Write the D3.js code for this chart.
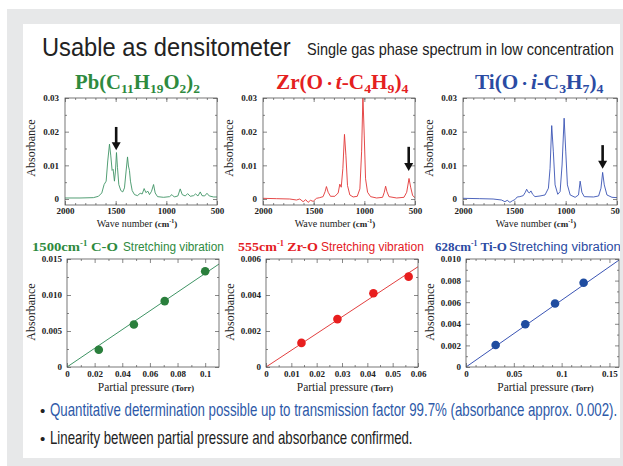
<!DOCTYPE html>
<html>
<head>
<meta charset="utf-8">
<script src="https://cdn.jsdelivr.net/npm/d3@7"></script>
<style>
  html, body { margin: 0; padding: 0; background: #fff; }
  svg { display: block; }
  .tick text { font-family: "Liberation Serif", "Times New Roman", serif; font-weight: bold; font-size: 9px; fill: #222; }
  .tick line { stroke: #555; stroke-width: 0.7; }
  .serif { font-family: "Liberation Serif", "Times New Roman", serif; }
  .sans { font-family: "Liberation Sans Narrow", "Liberation Sans", Arial, sans-serif; }
</style>
</head>
<body>
<svg id="chart" width="623" height="466"></svg>
<script>
// ---- data ----
const specXTicks = [2000, 1500, 1000, 500];
const specXLabels = ["2000", "1500", "1000", "500"];
const specYTicks = [0, 0.01, 0.02, 0.03];
const specYLabels = ["0", "0.01", "0.02", "0.03"];

// [wave number cm-1, absorbance]
const pbSpectrum = [
  [2000,0.0003],[1852,0.0003],[1720,0.0004],[1670,0.0008],[1637,0.0018],[1614,0.0043],
  [1594,0.0053],[1578,0.0113],[1561,0.0163],[1548,0.0128],[1535,0.0085],[1525,0.0088],
  [1512,0.0053],[1502,0.0083],[1492,0.0138],[1482,0.0093],[1469,0.0043],[1449,0.0025],
  [1430,0.0021],[1413,0.0033],[1397,0.0083],[1383,0.0125],[1374,0.0098],[1364,0.0085],
  [1354,0.0053],[1337,0.0025],[1314,0.0013],[1285,0.0010],[1258,0.0017],[1238,0.0015],
  [1219,0.0031],[1202,0.0019],[1182,0.0023],[1166,0.0013],[1146,0.0023],[1126,0.0043],
  [1110,0.0018],[1087,0.0007],[1027,0.0005],[968,0.0007],[945,0.0013],[922,0.0006],
  [886,0.0009],[863,0.0030],[843,0.0013],[813,0.0009],[790,0.0016],[764,0.0008],
  [731,0.0010],[711,0.0015],[688,0.0009],[665,0.0021],[648,0.0010],[622,0.0009],
  [599,0.0017],[576,0.0009],[533,0.0006],[500,0.0006]
];
const zrSpectrum = [
  [2000,0.0002],[1868,0.0001],[1736,0.0000],[1670,-0.0003],[1637,0.0000],[1604,-0.0008],
  [1578,-0.0002],[1555,-0.0010],[1532,-0.0004],[1505,-0.0007],[1472,0.0002],[1440,0.0004],
  [1407,0.0007],[1387,0.0022],[1374,0.0037],[1357,0.0020],[1334,0.0008],[1291,0.0008],
  [1258,0.0018],[1242,0.0044],[1228,0.0035],[1212,0.0090],[1196,0.0192],[1182,0.0130],
  [1166,0.0040],[1143,0.0012],[1110,0.0006],[1070,0.0008],[1044,0.0030],[1027,0.0140],
  [1014,0.0305],[1001,0.0190],[988,0.0060],[968,0.0020],[938,0.0007],[879,0.0003],
  [820,0.0005],[803,0.0020],[790,0.0038],[777,0.0022],[757,0.0007],[681,0.0003],
  [609,0.0005],[582,0.0020],[559,0.0061],[543,0.0035],[523,0.0010],[500,0.0004]
];
const tiSpectrum = [
  [2000,0.0002],[1837,0.0001],[1707,0.0000],[1625,-0.0003],[1592,-0.0008],[1569,-0.0004],
  [1543,-0.0010],[1517,-0.0005],[1495,-0.0002],[1472,0.0006],[1446,0.0007],[1413,0.0010],
  [1393,0.0020],[1380,0.0029],[1364,0.0020],[1354,0.0018],[1338,0.0024],[1322,0.0014],
  [1299,0.0007],[1250,0.0009],[1201,0.0012],[1168,0.0032],[1152,0.0091],[1136,0.0218],
  [1120,0.0140],[1103,0.0042],[1077,0.0014],[1054,0.0022],[1035,0.0101],[1015,0.0240],
  [999,0.0140],[983,0.0042],[956,0.0012],[908,0.0005],[875,0.0012],[859,0.0053],
  [842,0.0020],[819,0.0007],[728,0.0006],[679,0.0009],[656,0.0032],[640,0.0079],
  [624,0.0042],[598,0.0012],[549,0.0005],[500,0.0004]
];
// [wave number, absorbance at tail, absorbance at tip]
const pbArrow = [1495, 0.0214, 0.0145];
const zrArrow = [562, 0.0155, 0.0083];
const tiArrow = [640, 0.0160, 0.0090];

// calibration points
const pbPressure = [0.023, 0.0484, 0.0707, 0.1];
const pbAbsorb = [0.0024, 0.0059, 0.00915, 0.0133];
const pbFit = [[0, 0], [0.11, 0.0143]];
const pbCalXTicks = [0, 0.02, 0.04, 0.06, 0.08, 0.1];
const pbCalXLabels = ["0", "0.02", "0.04", "0.06", "0.08", "0.1"];
const pbCalYTicks = [0, 0.005, 0.01, 0.015];
const pbCalYLabels = ["0", "0.005", "0.010", "0.015"];

const zrPressure = [0.0140, 0.0282, 0.0424, 0.0563];
const zrAbsorb = [0.00134, 0.00266, 0.0041, 0.00502];
const zrFit = [[0, 0], [0.06, 0.00557]];
const zrCalXTicks = [0, 0.01, 0.02, 0.03, 0.04, 0.05, 0.06];
const zrCalXLabels = ["0", "0.01", "0.02", "0.03", "0.04", "0.05", "0.06"];
const zrCalYTicks = [0, 0.002, 0.004, 0.006];
const zrCalYLabels = ["0", "0.002", "0.004", "0.006"];

const tiPressure = [0.031, 0.062, 0.0931, 0.123];
const tiAbsorb = [0.00204, 0.00396, 0.00588, 0.0078];
const tiFit = [[0, 0], [0.16, 0.0099]];
const tiCalXTicks = [0, 0.05, 0.1, 0.15];
const tiCalXLabels = ["0", "0.05", "0.1", "0.15"];
const tiCalYTicks = [0, 0.002, 0.004, 0.006, 0.008, 0.01];
const tiCalYLabels = ["0", "0.002", "0.004", "0.006", "0.008", "0.010"];

const pbFormula = [["Pb(C"], ["11", "sub"], ["H"], ["19", "sub"], ["O"], ["2", "sub"], [")"], ["2", "sub"]];
const zrFormula = [["Zr(O"], ["・", "dot"], ["t", "it"], ["-C"], ["4", "sub"], ["H"], ["9", "sub"], [")"], ["4", "sub"]];
const tiFormula = [["Ti(O"], ["・", "dot"], ["i", "it"], ["-C"], ["3", "sub"], ["H"], ["7", "sub"], [")"], ["4", "sub"]];

const bandLabels = ["1500", "555", "628"];
const bondLabels = ["C-O", "Zr-O", "Ti-O"];

// ---- layout ----
const GREEN = "#2e8a3e", RED = "#e4201f", BLUE = "#2b4ba3";
const SPEC = [{ left: 65, right: 217 }, { left: 263, right: 415 }, { left: 463, right: 617 }];
const SPEC_TOP = 98, SPEC_Y0 = 199, SPEC_BOTTOM = 205;
const CAL = [{ left: 67, right: 219 }, { left: 266, right: 418 }, { left: 466, right: 619 }];
const CAL_TOP = 259, CAL_BOTTOM = 367;

const svg = d3.select("#chart");
const defs = svg.append("defs");
svg.append("rect").attr("x", 7).attr("y", 9).attr("width", 616).attr("height", 457).attr("fill", "#e7e8e9");
svg.append("rect").attr("x", 23).attr("y", 24).attr("width", 597).attr("height", 434).attr("fill", "#fff");
defs.append("clipPath").attr("id", "panelClip").append("rect")
  .attr("x", 23).attr("y", 24).attr("width", 597).attr("height", 434);
const root = svg.append("g").attr("clip-path", "url(#panelClip)");

// squeeze a text horizontally so it spans exactly `width` px starting at x
function fitText(sel, x, width) {
  sel.attr("x", 0);
  const w = sel.node().getBBox().width;
  sel.attr("transform", `translate(${x},0) scale(${width / w},1)`);
  return sel;
}

// headline
fitText(root.append("text").attr("class", "sans").attr("y", 56).attr("font-size", 26).attr("fill", "#222")
  .text("Usable as densitometer"), 42, 249);
fitText(root.append("text").attr("class", "sans").attr("y", 55).attr("font-size", 16.5).attr("fill", "#222")
  .text("Single gas phase spectrum in low concentration"), 307, 307);

// compound names
function drawFormula(parts, color, x, width) {
  const t = root.append("text").attr("class", "serif").attr("y", 89)
    .attr("font-size", 20).attr("font-weight", "bold").attr("fill", color);
  let shifted = false;
  parts.forEach(([s, kind]) => {
    const ts = t.append("tspan").text(s);
    if (kind === "sub") {
      ts.attr("font-size", 13).attr("dy", shifted ? 0 : 4);
      shifted = true;
    } else {
      if (shifted) ts.attr("dy", -4);
      shifted = false;
      if (kind === "it") ts.attr("font-style", "italic");
      if (kind === "dot") ts.attr("font-size", 12).attr("font-family", "Noto Sans CJK JP");
    }
  });
  fitText(t, x, width);
}
drawFormula(pbFormula, GREEN, 75, 125);
drawFormula(zrFormula, RED, 276, 133);
drawFormula(tiFormula, BLUE, 475, 129);

function frame(g, x0, x1, y0, y1) {
  g.append("rect").attr("x", x0).attr("y", y0).attr("width", x1 - x0).attr("height", y1 - y0)
    .attr("fill", "none").attr("stroke", "#555").attr("stroke-width", 0.8);
}
function clip(id, x0, x1, y0, y1) {
  defs.append("clipPath").attr("id", id).append("rect")
    .attr("x", x0).attr("y", y0).attr("width", x1 - x0).attr("height", y1 - y0);
  return `url(#${id})`;
}
function noDomain(s) { s.select(".domain").remove(); }
function ticks4(g, x, y, x0, x1, y0, y1, xt, xl, yt, yl, xMinor, yMinor, xPad, yPad) {
  const fx = d => xl[xt.indexOf(d)], fy = d => yl[yt.indexOf(d)];
  g.append("g").attr("transform", `translate(0,${y1})`)
    .call(d3.axisBottom(x).tickValues(xt).tickFormat(fx).tickSize(-4).tickPadding(xPad)).call(noDomain);
  g.append("g").attr("transform", `translate(0,${y1})`)
    .call(d3.axisBottom(x).tickValues(xMinor).tickFormat("").tickSize(-2)).call(noDomain);
  g.append("g").attr("transform", `translate(0,${y0})`)
    .call(d3.axisTop(x).tickValues(xt).tickFormat("").tickSize(-4)).call(noDomain);
  g.append("g").attr("transform", `translate(0,${y0})`)
    .call(d3.axisTop(x).tickValues(xMinor).tickFormat("").tickSize(-2)).call(noDomain);
  g.append("g").attr("transform", `translate(${x0},0)`)
    .call(d3.axisLeft(y).tickValues(yt).tickFormat(fy).tickSize(-4).tickPadding(yPad)).call(noDomain);
  g.append("g").attr("transform", `translate(${x0},0)`)
    .call(d3.axisLeft(y).tickValues(yMinor).tickFormat("").tickSize(-2)).call(noDomain);
  g.append("g").attr("transform", `translate(${x1},0)`)
    .call(d3.axisRight(y).tickValues(yt).tickFormat("").tickSize(-4)).call(noDomain);
  g.append("g").attr("transform", `translate(${x1},0)`)
    .call(d3.axisRight(y).tickValues(yMinor).tickFormat("").tickSize(-2)).call(noDomain);
}
function absorbanceLabel(g, cx, cy) {
  g.append("text").attr("class", "serif").attr("font-size", 12).attr("fill", "#222")
    .attr("text-anchor", "middle").attr("transform", `translate(${cx},${cy}) rotate(-90)`)
    .attr("dy", "0.35em").text("Absorbance");
}

// ---- spectra ----
function drawSpectrum(i, data, arrow, color) {
  const L = SPEC[i];
  const x = d3.scaleLinear().domain([2000, 500]).range([L.left, L.right]);
  const y = d3.scaleLinear().domain([0, 0.03]).range([SPEC_Y0, SPEC_TOP]);
  const g = root.append("g");
  g.append("path").datum(data)
    .attr("d", d3.line().x(d => x(d[0])).y(d => y(d[1])))
    .attr("fill", "none").attr("stroke", color).attr("stroke-width", 0.9)
    .attr("clip-path", clip("sc" + i, L.left, L.right, SPEC_TOP, SPEC_BOTTOM));
  frame(g, L.left, L.right, SPEC_TOP, SPEC_BOTTOM);
  ticks4(g, x, y, L.left, L.right, SPEC_TOP, SPEC_BOTTOM,
    specXTicks, specXLabels, specYTicks, specYLabels,
    d3.range(1900, 500, -100), [0.005, 0.015, 0.025], 3, 6);
  absorbanceLabel(g, L.left - 34, 148);
  const lab = g.append("text").attr("class", "serif").attr("y", 227).attr("font-size", 10).attr("fill", "#222")
    .attr("text-anchor", "middle").attr("x", (L.left + L.right) / 2 - 4);
  lab.append("tspan").text("Wave number ");
  lab.append("tspan").attr("font-weight", "bold").attr("font-size", 9).text("(cm");
  lab.append("tspan").attr("font-weight", "bold").attr("font-size", 6).attr("dy", -4).text("-1");
  lab.append("tspan").attr("font-weight", "bold").attr("font-size", 9).attr("dy", 4).text(")");
  // arrow
  const ax = x(arrow[0]), yTail = y(arrow[1]), yTip = y(arrow[2]);
  g.append("line").attr("x1", ax).attr("x2", ax).attr("y1", yTail).attr("y2", yTip - 7)
    .attr("stroke", "#111").attr("stroke-width", 2.6);
  g.append("path").attr("d", `M${ax - 4.5},${yTip - 8}L${ax + 4.5},${yTip - 8}L${ax},${yTip}Z`).attr("fill", "#111");
}
drawSpectrum(0, pbSpectrum, pbArrow, "#3f9465");
drawSpectrum(1, zrSpectrum, zrArrow, "#e23636");
drawSpectrum(2, tiSpectrum, tiArrow, "#3a54b4");

// ---- calibration plots ----
function drawCal(i, px, py, fit, xt, xl, yt, yl, xMinor, yMinor, color, lineColor) {
  const L = CAL[i];
  const x = d3.scaleLinear().domain([0, Math.max(xt[xt.length - 1], fit[1][0])]).range([L.left, L.right]);
  const y = d3.scaleLinear().domain([0, yt[yt.length - 1]]).range([CAL_BOTTOM, CAL_TOP]);
  const g = root.append("g");
  g.append("path").datum(fit)
    .attr("d", d3.line().x(d => x(d[0])).y(d => y(d[1])))
    .attr("stroke", lineColor).attr("stroke-width", 1).attr("fill", "none")
    .attr("clip-path", clip("cc" + i, L.left, L.right, CAL_TOP, CAL_BOTTOM));
  frame(g, L.left, L.right, CAL_TOP, CAL_BOTTOM);
  ticks4(g, x, y, L.left, L.right, CAL_TOP, CAL_BOTTOM, xt, xl, yt, yl, xMinor, yMinor, 3.5, 5);
  g.selectAll("circle.pt").data(px).join("circle").attr("class", "pt")
    .attr("cx", d => x(d)).attr("cy", (d, j) => y(py[j])).attr("r", 4.3).attr("fill", color);
  absorbanceLabel(g, L.left - 36, 312);
  const lab = g.append("text").attr("class", "serif").attr("y", 391).attr("font-size", 11.5).attr("fill", "#222")
    .attr("text-anchor", "middle").attr("x", (L.left + L.right) / 2 + 3);
  lab.append("tspan").text("Partial pressure ");
  lab.append("tspan").attr("font-weight", "bold").attr("font-size", 8.5).text("(Torr)");
}
drawCal(0, pbPressure, pbAbsorb, pbFit, pbCalXTicks, pbCalXLabels, pbCalYTicks, pbCalYLabels,
  d3.range(0.01, 0.11, 0.02), [0.0025, 0.0075, 0.0125], "#2a7f3c", "#3f9465");
drawCal(1, zrPressure, zrAbsorb, zrFit, zrCalXTicks, zrCalXLabels, zrCalYTicks, zrCalYLabels,
  d3.range(0.005, 0.06, 0.01), [0.001, 0.003, 0.005], "#e81e1e", "#e23f3f");
drawCal(2, tiPressure, tiAbsorb, tiFit, tiCalXTicks, tiCalXLabels, tiCalYTicks, tiCalYLabels,
  d3.range(0.01, 0.16, 0.01).filter(v => Math.abs(v * 20 - Math.round(v * 20)) > 1e-6), [0.001, 0.003, 0.005, 0.007, 0.009], "#1f4ca0", "#3a54b4");

// row captions above calibration plots
const captionPos = [
  { x: 32, w: 86, sx: 123, sw: 101 },
  { x: 238, w: 80, sx: 321, sw: 103 },
  { x: 435, w: 72, sx: 509, sw: 112 }
];
[GREEN, RED, BLUE].forEach((c, i) => {
  const p = captionPos[i];
  const t = root.append("text").attr("class", "serif").attr("y", 251).attr("font-size", 13.5)
    .attr("font-weight", "bold").attr("fill", c);
  t.append("tspan").text(bandLabels[i] + "cm");
  t.append("tspan").attr("font-size", 8).attr("dy", -5).text("-1");
  t.append("tspan").attr("dy", 5).text(" " + bondLabels[i]);
  fitText(t, p.x, p.w);
  fitText(root.append("text").attr("class", "sans").attr("y", 251).attr("font-size", 13.5).attr("fill", c)
    .text("Stretching vibration"), p.sx, p.sw);
});

// bullets
root.append("text").attr("class", "sans").attr("x", 40).attr("y", 416).attr("font-size", 15).attr("fill", "#222").text("•");
fitText(root.append("text").attr("class", "sans").attr("y", 416).attr("font-size", 17.5).attr("fill", "#2d59a8")
  .text("Quantitative determination possible up to transmission factor 99.7% (absorbance approx. 0.002)."), 50, 568);
root.append("text").attr("class", "sans").attr("x", 40).attr("y", 444).attr("font-size", 15).attr("fill", "#222").text("•");
fitText(root.append("text").attr("class", "sans").attr("y", 444).attr("font-size", 17.5).attr("fill", "#222")
  .text("Linearity between partial pressure and absorbance confirmed."), 50, 363);
</script>
</body>
</html>
